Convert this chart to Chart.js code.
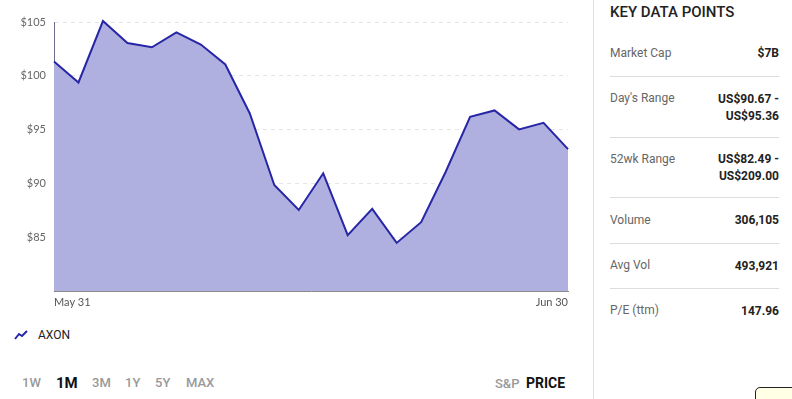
<!DOCTYPE html>
<html>
<head>
<meta charset="utf-8">
<script src="https://cdn.jsdelivr.net/npm/chart.js@4.4.0/dist/chart.umd.min.js"></script>
<style>
  body { margin: 0; width: 792px; height: 399px; background: #fff; font-family: Roboto, sans-serif; position: relative; overflow: hidden; }
  #chartBox { position: absolute; left: 0; top: 0; width: 585px; height: 310px; }
  .legend { position: absolute; left: 14px; top: 328px; font-size: 12px; color: #222; display: flex; align-items: center; }
  .legend svg { margin-right: 8px; }
  .ranges { position: absolute; left: 22px; top: 375px; font-size: 13px; color: #999; font-weight: 500; }
  .ranges span { position: absolute; white-space: nowrap; }
  .ranges .on { color: #111; font-size: 15px; font-weight: 700; top: -1px; }
  .src { position: absolute; top: 376px; font-size: 13px; white-space: nowrap; }
  .divider { position: absolute; left: 593px; top: 0; width: 1px; height: 399px; background: #e0e0e0; }
  .panel { position: absolute; left: 610px; top: 0; width: 169px; }
  .panel h3 { margin: 0; position: absolute; top: 3px; font-size: 15px; font-weight: 500; color: #222; white-space: nowrap; }
  .row { position: absolute; left: 0; width: 169px; border-bottom: 1px solid #ddd; font-size: 12px; }
  .row .k { position: absolute; left: 0; color: #666; }
  .row .v { position: absolute; right: 0; text-align: right; font-weight: 700; color: #222; line-height: 17px; }
  .tip { position: absolute; left: 755px; top: 387px; width: 50px; height: 20px; border: 1px solid #222; border-radius: 5px; background: #ffffe6; }
</style>
</head>
<body>
<div id="chartBox"><canvas id="chart-axon"></canvas></div>

<div class="legend">
  <svg width="16" height="10" viewBox="0 0 16 10"><polyline points="1,9 5,4 8,6 13,1" fill="none" stroke="#2626a6" stroke-width="2"/></svg>
  AXON
</div>

<div class="ranges">
  <span style="left:0">1W</span>
  <span class="on" style="left:34px">1M</span>
  <span style="left:70px">3M</span>
  <span style="left:103px">1Y</span>
  <span style="left:133px">5Y</span>
  <span style="left:164px">MAX</span>
</div>
<div class="src" style="left:495px;color:#999;font-weight:500">S&amp;P</div>
<div class="src" style="left:526px;color:#111;font-weight:700;font-size:14px;top:375px">PRICE</div>

<div class="divider"></div>

<div class="panel">
  <h3>KEY DATA POINTS</h3>
  <div class="row" style="top:30px;height:46px"><span class="k" style="top:16px">Market Cap</span><span class="v" style="top:15px">$7B</span></div>
  <div class="row" style="top:77px;height:60px"><span class="k" style="top:14px">Day's Range</span><span class="v" style="top:14px">US$90.67 -<br>US$95.36</span></div>
  <div class="row" style="top:138px;height:59px"><span class="k" style="top:14px">52wk Range</span><span class="v" style="top:13px">US$82.49 -<br>US$209.00</span></div>
  <div class="row" style="top:198px;height:45px"><span class="k" style="top:15px">Volume</span><span class="v" style="top:14px">306,105</span></div>
  <div class="row" style="top:244px;height:44px"><span class="k" style="top:14px">Avg Vol</span><span class="v" style="top:14px">493,921</span></div>
  <div class="row" style="top:289px;height:44px;border-bottom:none"><span class="k" style="top:14px">P/E (ttm)</span><span class="v" style="top:14px">147.96</span></div>
</div>

<div class="tip"></div>

<script>
// ===== Dati: AXON, ultimo mese =====
const dates = [
  'May 31', 'Jun 1', 'Jun 2', 'Jun 5', 'Jun 6', 'Jun 7', 'Jun 8', 'Jun 9',
  'Jun 12', 'Jun 13', 'Jun 14', 'Jun 15', 'Jun 16', 'Jun 19', 'Jun 20', 'Jun 21',
  'Jun 22', 'Jun 23', 'Jun 26', 'Jun 27', 'Jun 28', 'Jun 30'
];
const prices = [
  101.33, 99.38, 105.09, 103.05, 102.65, 104.04, 102.90, 101.05,
  96.50, 89.85, 87.53, 90.94, 85.19, 87.63, 84.47, 86.39,
  91.06, 96.19, 96.78, 95.02, 95.63, 93.19
];
const yTicks = [85, 90, 95, 100, 105];
const yMin = 80;
const yMax = 105;

const ctx = document.getElementById('chart-axon').getContext('2d');

const chartAxon = new Chart(ctx, {
  type: 'line',
  data: {
    labels: dates,
    datasets: [{
      label: 'AXON',
      data: prices,
      borderColor: '#2626a6',
      backgroundColor: '#b0b0e0',
      borderWidth: 2,
      fill: 'start',
      tension: 0,
      pointRadius: 0,
      clip: false
    }]
  },
  options: {
    responsive: true,
    maintainAspectRatio: false,
    animation: false,
    layout: { padding: { top: 22, right: 17, left: 0, bottom: 0 } },
    plugins: { legend: { display: false }, tooltip: { enabled: false } },
    scales: {
      x: {
        grid: { display: false, drawTicks: false },
        border: { color: '#8a8a8a', width: 1 },
        afterFit: s => { s.height = 19; },
        ticks: {
          autoSkip: false,
          maxRotation: 0,
          align: 'inner',
          padding: 5,
          color: '#555',
          font: { family: 'Lato', size: 11 },
          callback: (v, i) => (i === 0 || i === dates.length - 1) ? dates[i] : ''
        }
      },
      y: {
        min: yMin,
        max: yMax,
        afterFit: s => { s.width = 54; },
        afterBuildTicks: s => { s.ticks = yTicks.map(v => ({ value: v })); },
        grid: { color: '#e6e6e6', drawTicks: false },
        border: { color: '#6b6b8a', width: 1, dash: [4, 4] },
        ticks: {
          padding: 8,
          color: '#666',
          font: { family: 'Lato', size: 11 },
          callback: v => '$' + v
        }
      }
    }
  }
});
</script>
</body>
</html>
